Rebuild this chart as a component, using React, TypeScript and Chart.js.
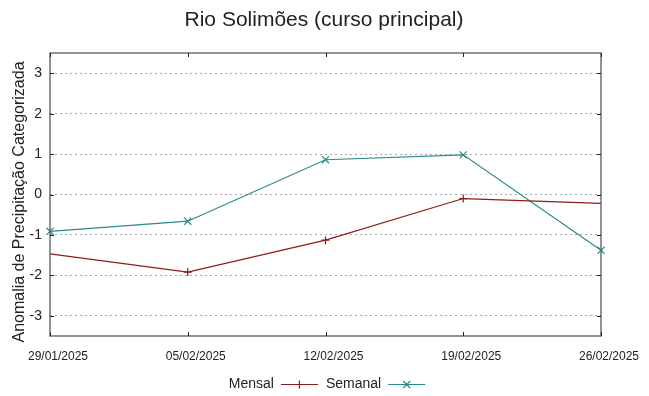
import React, { useEffect, useRef } from "react";
import { Chart, registerables } from "chart.js";

Chart.register(...registerables);

const chartTitle = "Rio Solimões (curso principal)";
const yAxisTitle = "Anomalia de Precipitação Categorizada";
const dates = ["29/01/2025", "05/02/2025", "12/02/2025", "19/02/2025", "26/02/2025"];
const mensal = [-1.47, -1.92, -1.13, -0.1, -0.22];
const semanal = [-0.91, -0.66, 0.86, 0.98, -1.38];
const yTicks = [-3, -2, -1, 0, 1, 2, 3];
const seriesNames = ["Mensal", "Semanal"];

const FONT = "'Liberation Sans', Arial, sans-serif";
const MENSAL_COLOR = "#8e1b1b";
const SEMANAL_COLOR = "#2a8a8a";
const TEXT_COLOR = "#222";

const decorPlugin = {
  id: "decor",
  afterDraw(chart: any) {
    const ctx = chart.ctx;
    const area = chart.chartArea;
    const yScale = chart.scales.y;
    const xScale = chart.scales.x;
    ctx.save();

    // border
    ctx.strokeStyle = "#5a5a5a";
    ctx.lineWidth = 1.3;
    ctx.setLineDash([]);
    ctx.strokeRect(area.left, area.top, area.right - area.left, area.bottom - area.top);

    // tick marks (inward, mirrored)
    ctx.strokeStyle = "#222";
    ctx.lineWidth = 1;
    const tl = 4;
    ctx.beginPath();
    yTicks.forEach((v) => {
      const y = Math.round(yScale.getPixelForValue(v)) + 0.5;
      ctx.moveTo(area.left, y);
      ctx.lineTo(area.left + tl, y);
      ctx.moveTo(area.right, y);
      ctx.lineTo(area.right - tl, y);
    });
    dates.forEach((_, i) => {
      const x = Math.round(xScale.getPixelForValue(i)) + 0.5;
      ctx.moveTo(x, area.bottom);
      ctx.lineTo(x, area.bottom - tl);
      ctx.moveTo(x, area.top);
      ctx.lineTo(x, area.top + tl);
    });
    ctx.stroke();

    // title
    ctx.fillStyle = TEXT_COLOR;
    ctx.font = `21px ${FONT}`;
    ctx.textAlign = "center";
    ctx.textBaseline = "alphabetic";
    ctx.fillText(chartTitle, 324, 26);

    // y axis title
    ctx.save();
    ctx.font = `16px ${FONT}`;
    ctx.translate(24, 202);
    ctx.rotate(-Math.PI / 2);
    ctx.textAlign = "center";
    ctx.textBaseline = "alphabetic";
    ctx.fillText(yAxisTitle, 0, 0);
    ctx.restore();

    // legend: text then sample line with marker
    ctx.font = `14px ${FONT}`;
    ctx.textAlign = "left";
    ctx.textBaseline = "alphabetic";
    const sampleLen = 37;
    const gapA = 7;
    const gapB = 8;
    const widths = seriesNames.map((n) => ctx.measureText(n).width);
    const total = widths[0] + gapA + sampleLen + gapB + widths[1] + gapA + sampleLen;
    let x = 327 - total / 2;
    const baseY = 388;
    const lineY = 384.5;
    const colors = [MENSAL_COLOR, SEMANAL_COLOR];
    seriesNames.forEach((name, i) => {
      ctx.fillStyle = TEXT_COLOR;
      ctx.fillText(name, x, baseY);
      x += widths[i] + gapA;
      ctx.strokeStyle = colors[i];
      ctx.lineWidth = 1.2;
      ctx.beginPath();
      ctx.moveTo(x, lineY);
      ctx.lineTo(x + sampleLen, lineY);
      const mx = x + sampleLen / 2;
      if (i === 0) {
        ctx.moveTo(mx, lineY - 4);
        ctx.lineTo(mx, lineY + 4);
      } else {
        ctx.moveTo(mx - 3.5, lineY - 3.5);
        ctx.lineTo(mx + 3.5, lineY + 3.5);
        ctx.moveTo(mx - 3.5, lineY + 3.5);
        ctx.lineTo(mx + 3.5, lineY - 3.5);
      }
      ctx.stroke();
      x += sampleLen + gapB;
    });

    ctx.restore();
  },
};

export default function App() {
  const canvasRef = useRef<HTMLCanvasElement | null>(null);

  useEffect(() => {
    const canvas = canvasRef.current;
    if (!canvas) return;
    const last = dates.length - 1;
    const chart = new Chart(canvas, {
      type: "line",
      data: {
        labels: dates,
        datasets: [
          {
            label: seriesNames[0],
            data: mensal,
            borderColor: MENSAL_COLOR,
            backgroundColor: MENSAL_COLOR,
            borderWidth: 1.2,
            pointStyle: "cross",
            pointRadius: (c: any) => (c.dataIndex === 0 || c.dataIndex === last ? 0 : 4),
            pointBorderWidth: 1.2,
            pointBorderColor: MENSAL_COLOR,
            tension: 0,
            fill: false,
            clip: false as any,
          },
          {
            label: seriesNames[1],
            data: semanal,
            borderColor: SEMANAL_COLOR,
            backgroundColor: SEMANAL_COLOR,
            borderWidth: 1.2,
            pointStyle: "crossRot",
            pointRadius: 5,
            pointBorderWidth: 1.2,
            pointBorderColor: SEMANAL_COLOR,
            tension: 0,
            fill: false,
            clip: false as any,
          },
        ],
      },
      options: {
        animation: false,
        responsive: false,
        devicePixelRatio: 1,
        layout: { padding: { top: 53, right: 48, bottom: 0, left: 0 } },
        plugins: {
          legend: { display: false },
          title: { display: false },
          tooltip: { enabled: false },
        },
        scales: {
          x: {
            type: "category",
            offset: false,
            grid: { display: false, drawTicks: false },
            border: { display: false },
            afterFit: (s: any) => {
              s.height = 60;
            },
            ticks: {
              autoSkip: false,
              maxRotation: 0,
              minRotation: 0,
              labelOffset: 8,
              padding: 13,
              color: TEXT_COLOR,
              font: { family: FONT, size: 12 },
            },
          },
          y: {
            type: "linear",
            min: -3.5,
            max: 3.5,
            afterBuildTicks: (s: any) => {
              s.ticks = yTicks.map((v) => ({ value: v }));
            },
            afterFit: (s: any) => {
              s.width = 50;
            },
            grid: { color: "#a8a8a8", lineWidth: 1, drawTicks: false },
            border: { display: false, dash: [2, 3] },
            ticks: {
              padding: 8,
              color: TEXT_COLOR,
              font: { family: FONT, size: 14 },
              callback: (v: any) => String(v),
            },
          },
        },
      },
      plugins: [decorPlugin],
    });
    return () => chart.destroy();
  }, []);

  return (
    <div style={{ position: "absolute", left: 0, top: 0, width: 649, height: 396, background: "#fff" }}>
      <canvas ref={canvasRef} width={649} height={396} style={{ width: 649, height: 396, display: "block" }} />
    </div>
  );
}
